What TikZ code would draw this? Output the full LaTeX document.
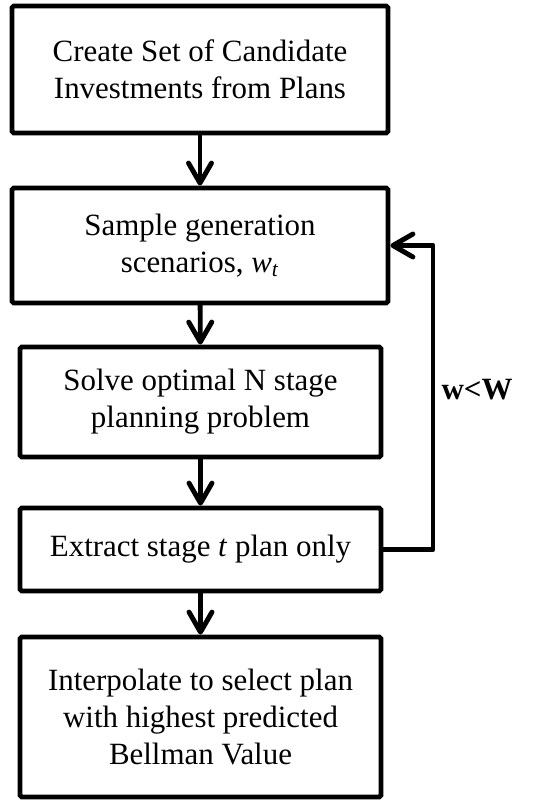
\documentclass[tikz,border=0pt]{standalone}
\usepackage{fontspec}
\setmainfont{Liberation Serif}
\usetikzlibrary{arrows.meta,positioning,calc}

\begin{document}
\begin{tikzpicture}[>={Straight Barb[length=4mm,width=4.6mm,line cap=round,line join=round]},
 stepbox/.style={draw,line width=2.8pt,rounded corners=1pt,align=center,inner sep=2pt,font=\fontsize{17.6}{21}\selectfont},
 a/.style={->,line width=2.8pt,line cap=round,line join=round}]
\useasboundingbox (0,0) rectangle (10.74,-16);
\node[stepbox,minimum width=7.52cm,minimum height=2.54cm] (b1) at (4.00,-1.39) {Create Set of Candidate\\Investments from Plans};
\node[stepbox,minimum width=7.52cm,minimum height=2.30cm] (b2) at (4.00,-4.91) {Sample generation\\scenarios, \textit{w}\textsubscript{\textit{t}}};
\node[stepbox,minimum width=7.22cm,minimum height=2.20cm] (b3) at (4.01,-8.04) {Solve optimal N stage\\planning problem};
\node[stepbox,minimum width=7.22cm,minimum height=1.66cm] (b4) at (4.01,-10.99) {Extract stage \textit{t} plan only};
\node[stepbox,minimum width=7.22cm,minimum height=3.20cm] (b5) at (4.01,-14.34) {Interpolate to select plan\\with highest predicted\\Bellman Value};
\draw[a] (b1) -- (b2);
\draw[a] (b2) -- (b3);
\draw[a] (b3) -- (b4);
\draw[a] (b4) -- (b5);
% feedback loop
\coordinate (loopx) at (8.66,0);
\draw[a] (b4.east) -- (b4.east -| loopx) |- (b2.east);
\node[font=\fontsize{17.6}{21}\selectfont\bfseries] (cond) at (9.54,-7.80) {w<W};
\end{tikzpicture}
\end{document}
